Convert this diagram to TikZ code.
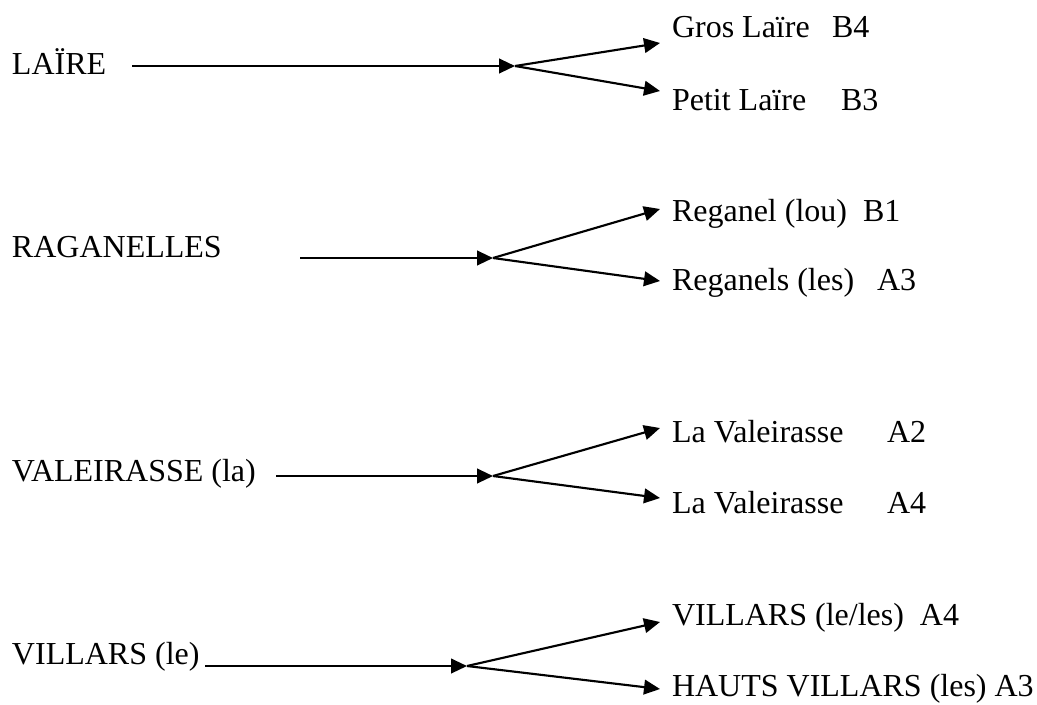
\documentclass[tikz,border=0pt]{standalone}
\usepackage{fontspec}
\setmainfont{Liberation Serif}
\usetikzlibrary{arrows.meta}
\begin{document}
\begin{tikzpicture}[x=0.75pt,y=-0.75pt,
  lbl/.style={anchor=base west,inner sep=0pt,outer sep=0pt,font=\fontsize{24}{28}\selectfont},
  arr/.style={line width=1.6pt,-{Triangle[length=12pt,width=11pt]}}]
\useasboundingbox (0,0) rectangle (1037,704);
% group 1
\node[lbl] (laire) at (12,74) {LAÏRE};
\node[lbl] (gros) at (672,37) {\makebox[120pt][l]{Gros Laïre}B4};
\node[lbl] (petit) at (672,110) {\makebox[126.75pt][l]{Petit Laïre}B3};
\coordinate (s1) at (132,66);
\coordinate (j1) at (515,66);
\coordinate (t1a) at (660,43);
\coordinate (t1b) at (660,91);
\draw[arr] (s1) -- (j1);
\draw[arr] (j1) -- (t1a);
\draw[arr] (j1) -- (t1b);
% group 2
\node[lbl] (rag) at (12,257) {RAGANELLES};
\node[lbl] (reg1) at (672,221) {\makebox[143.25pt][l]{Reganel (lou)}B1};
\node[lbl] (reg2) at (672,290) {\makebox[153.75pt][l]{Reganels (les)}A3};
\coordinate (s2) at (300,258);
\coordinate (j2) at (493,258);
\coordinate (t2a) at (660,209);
\coordinate (t2b) at (660,281);
\draw[arr] (s2) -- (j2);
\draw[arr] (j2) -- (t2a);
\draw[arr] (j2) -- (t2b);
% group 3
\node[lbl] (val) at (12,481) {VALEIRASSE (la)};
\node[lbl] (val1) at (672,442) {\makebox[161.25pt][l]{La Valeirasse}A2};
\node[lbl] (val2) at (672,513) {\makebox[161.25pt][l]{La Valeirasse}A4};
\coordinate (s3) at (276,476);
\coordinate (j3) at (493,476);
\coordinate (t3a) at (660,428);
\coordinate (t3b) at (660,498);
\draw[arr] (s3) -- (j3);
\draw[arr] (j3) -- (t3a);
\draw[arr] (j3) -- (t3b);
% group 4
\node[lbl] (vil) at (12,664) {VILLARS (le)};
\node[lbl] (vil1) at (672,625) {VILLARS (le/les)\hspace{12pt}A4};
\node[lbl] (vil2) at (672,696) {HAUTS VILLARS (les) A3};
\coordinate (s4) at (205,666);
\coordinate (j4) at (467,666);
\coordinate (t4a) at (660,622);
\coordinate (t4b) at (660,689);
\draw[arr] (s4) -- (j4);
\draw[arr] (j4) -- (t4a);
\draw[arr] (j4) -- (t4b);
\end{tikzpicture}
\end{document}
